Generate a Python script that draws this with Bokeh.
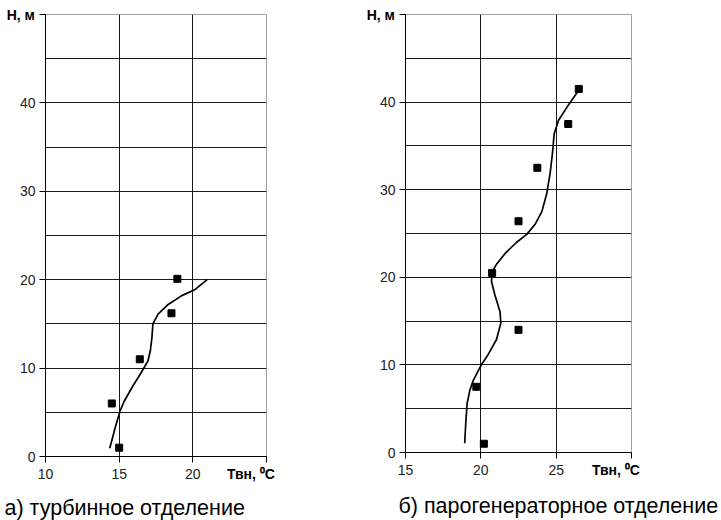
from bokeh.plotting import figure
from bokeh.layouts import row
from bokeh.models import FixedTicker, Title
from bokeh.embed import file_html
from bokeh.resources import INLINE

# ---- data: (а) турбинное отделение ----
a_pts_t = [15.0, 14.5, 16.4, 18.55, 18.95]
a_pts_h = [1.0, 6.0, 11.0, 16.2, 20.1]
a_curve_t = [14.36, 14.72, 15.05, 15.34, 15.92, 16.49, 16.95, 17.11, 17.22, 17.29,
             17.64, 18.33, 19.25, 20.16, 20.97]
a_curve_h = [0.94, 3.2, 5.1, 6.25, 7.95, 9.47, 10.8, 11.9, 13.4, 15.0,
             16.1, 17.2, 18.2, 18.9, 20.0]

# ---- data: (б) парогенераторное отделение ----
b_pts_t = [20.2, 19.7, 22.5, 20.75, 22.5, 23.75, 25.8, 26.5]
b_pts_h = [1.0, 7.5, 14.0, 20.5, 26.4, 32.5, 37.5, 41.5]
b_curve_t = [18.93, 19.0, 19.09, 19.27, 19.49, 20.0, 20.49, 21.04, 21.33, 21.27,
             20.93, 20.71, 20.75, 21.04, 21.6, 22.38, 23.05, 23.6, 24.05, 24.38,
             24.6, 24.75, 24.87, 25.15, 25.71, 26.15, 26.53]
b_curve_h = [1.06, 3.4, 5.6, 7.1, 8.2, 9.9, 11.2, 12.9, 14.8, 16.1,
             18.0, 19.5, 20.6, 21.5, 22.7, 24.0, 24.9, 26.05, 27.5, 29.6,
             31.9, 34.1, 36.4, 37.9, 39.4, 40.5, 41.4]

a_xticks = [10, 15, 20, 25]
b_xticks = [15, 20, 25, 30]
yticks = [0, 10, 20, 30, 40, 50]
ygrid = [5, 10, 15, 20, 25, 30, 35, 40, 45]

y_label = "H, м"
x_label = "Твн, ⁰С" + "\u00a0" * 8
cap_a = "а) турбинное отделение"
cap_b = "б) парогенераторное отделение"

FONT = "Liberation Sans"
H = 520


def make_panel(xr, xticks, pts_t, pts_h, cur_t, cur_h, fw, fh, bl, br, bt, bb,
               caption, cap_offset, cap_standoff):
    p = figure(title=None, frame_width=fw, frame_height=fh, x_range=xr,
               y_range=(0, 50), min_border_left=bl, min_border_right=br,
               min_border_top=bt, min_border_bottom=bb, output_backend="svg",
               toolbar_location=None)
    p.background_fill_color = "white"
    p.border_fill_color = "white"
    p.outline_line_color = "#a0a0a0"
    p.outline_line_width = 1

    for ax in (p.xaxis[0], p.yaxis[0]):
        ax.axis_line_color = "black"
        ax.major_tick_line_color = "black"
        ax.minor_tick_line_color = None
        ax.major_tick_out = 6
        ax.major_tick_in = 0
        ax.major_label_text_font = FONT
        ax.major_label_text_font_size = "14px"
        ax.major_label_text_color = "#222222"
        ax.major_label_standoff = 4
        ax.axis_label_text_font = FONT
        ax.axis_label_text_font_size = "14px"
        ax.axis_label_text_font_style = "bold"
        ax.axis_label_text_color = "black"
        ax.axis_label_align = "end"

    xa = p.xaxis[0]
    xa.ticker = FixedTicker(ticks=xticks)
    xa.major_label_overrides = {xticks[-1]: ""}
    xa.major_label_standoff = 6
    xa.axis_label = x_label
    xa.axis_label_standoff = -16

    ya = p.yaxis[0]
    ya.ticker = FixedTicker(ticks=yticks)
    ya.major_label_overrides = {50: ""}
    ya.axis_label = y_label
    ya.axis_label_orientation = "horizontal"
    ya.axis_label_standoff = -18

    p.xgrid[0].ticker = FixedTicker(ticks=xticks[1:-1])
    p.ygrid[0].ticker = FixedTicker(ticks=ygrid)
    p.xgrid[0].grid_line_color = "black"
    p.ygrid[0].grid_line_color = "black"
    p.xgrid[0].grid_line_alpha = 0.9
    p.ygrid[0].grid_line_alpha = 0.9

    p.line(cur_t, cur_h, line_color="black", line_width=1.7)
    p.scatter(pts_t, pts_h, marker="square", size=7, fill_color="black",
              line_color="black")

    p.add_layout(Title(text=caption, align="left", offset=cap_offset,
                       standoff=cap_standoff,
                       text_font=FONT, text_font_size="21.5px",
                       text_font_style="normal", text_color="black"), "below")
    return p


p1 = make_panel((10, 25), a_xticks, a_pts_t, a_pts_h, a_curve_t, a_curve_h,
                221, 442, 45, 94, 14, H - 14 - 442, cap_a, -41, 18)
p2 = make_panel((15, 30), b_xticks, b_pts_t, b_pts_h, b_curve_t, b_curve_h,
                226, 438, 45, 89, 14, H - 14 - 438, cap_b, -7, 22)

layout = row(p1, p2, spacing=0)
open("out.html", "w").write(file_html(layout, INLINE))
